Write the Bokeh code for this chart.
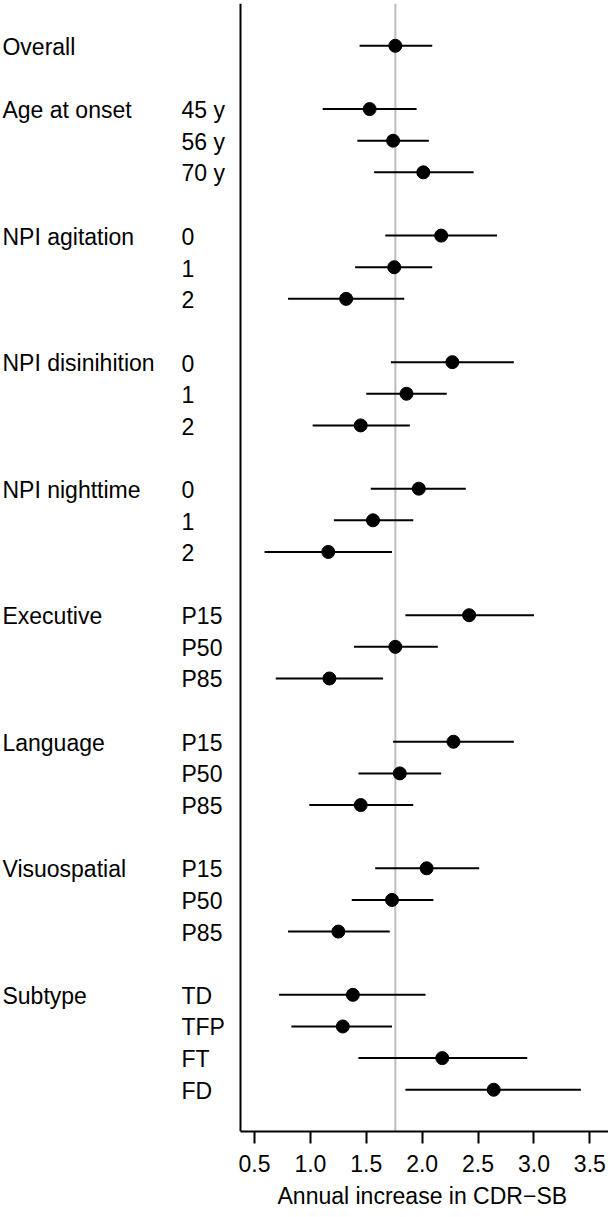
from bokeh.plotting import figure
from bokeh.models import (Range1d, Span, FixedTicker, ColumnDataSource,
                          NumeralTickFormatter, Title)
from bokeh.core.properties import value
from bokeh.embed import file_html
from bokeh.resources import INLINE

# ---------------- data ----------------
groups = ["Overall", "Age at onset", "NPI agitation", "NPI disinihition",
          "NPI nighttime", "Executive", "Language", "Visuospatial", "Subtype"]
sublabels = [
    [""],
    ["45 y", "56 y", "70 y"],
    ["0", "1", "2"],
    ["0", "1", "2"],
    ["0", "1", "2"],
    ["P15", "P50", "P85"],
    ["P15", "P50", "P85"],
    ["P15", "P50", "P85"],
    ["TD", "TFP", "FT", "FD"],
]
estimate = [1.76,
            1.53, 1.74, 2.01,
            2.17, 1.75, 1.32,
            2.27, 1.86, 1.45,
            1.97, 1.56, 1.16,
            2.42, 1.76, 1.17,
            2.28, 1.80, 1.45,
            2.04, 1.73, 1.25,
            1.38, 1.29, 2.18, 2.64]
lower = [1.44,
         1.11, 1.42, 1.57,
         1.67, 1.40, 0.80,
         1.72, 1.50, 1.02,
         1.54, 1.21, 0.59,
         1.85, 1.39, 0.69,
         1.74, 1.43, 0.99,
         1.58, 1.37, 0.80,
         0.72, 0.83, 1.43, 1.85]
upper = [2.09,
         1.95, 2.06, 2.46,
         2.67, 2.09, 1.84,
         2.82, 2.22, 1.89,
         2.39, 1.92, 1.73,
         3.00, 2.14, 1.65,
         2.82, 2.17, 1.92,
         2.51, 2.10, 1.71,
         2.03, 1.73, 2.94, 3.42]
reference = 1.76
xticks = [0.5, 1.0, 1.5, 2.0, 2.5, 3.0, 3.5]
xtitle = "Annual increase in CDR\u2212SB"

# ---------------- rows ----------------
rows, subs, grow, gname = [], [], [], []
r = 0
for g, sl in zip(groups, sublabels):
    grow.append(r)
    gname.append(g)
    for s in sl:
        rows.append(r)
        subs.append(s)
        r += 1
    r += 1  # blank row between groups
last_row = rows[-1]

# ---------------- layout ----------------
X_START, X_END = -1.7725, 3.667
AXIS_X = 0.3747
GROUP_X = -1.755
SUB_X = -0.153
FONT = value("Liberation Sans")
FS = "23px"

p = figure(width=608, height=1217, output_backend="svg", toolbar_location=None,
           x_range=Range1d(X_START, X_END),
           y_range=Range1d(last_row + 1.32, -1.337),
           min_border_left=0, min_border_right=0, min_border_top=3,
           min_border_bottom=86)
p.outline_line_color = None
p.grid.visible = False
p.yaxis.visible = False
p.background_fill_color = "white"
p.border_fill_color = "white"

ax = p.xaxis[0]
ax.ticker = FixedTicker(ticks=xticks)
ax.formatter = NumeralTickFormatter(format="0.0")
ax.bounds = (AXIS_X, X_END)
ax.axis_line_width = 2
ax.axis_line_color = "black"
ax.major_tick_line_width = 2
ax.major_tick_line_color = "black"
ax.major_tick_out = 12
ax.major_tick_in = 0
ax.minor_tick_line_color = None
ax.major_label_text_font = "Liberation Sans"
ax.major_label_text_font_size = FS
ax.major_label_text_color = "black"
ax.major_label_standoff = 11

p.add_layout(Title(text=xtitle, align="left", offset=277,
                   text_font="Liberation Sans", text_font_size=FS,
                   text_font_style="normal", text_color="black",
                   standoff=13), "below")

p.add_layout(Span(location=reference, dimension="height", line_color="#bebebe",
                  line_width=2, level="underlay"))
p.add_layout(Span(location=AXIS_X, dimension="height", line_color="black",
                  line_width=2))

src = ColumnDataSource(dict(y=rows, est=estimate, lo=lower, hi=upper, sub=subs,
                            subx=[SUB_X] * len(rows)))
p.segment(x0="lo", y0="y", x1="hi", y1="y", source=src, line_color="black",
          line_width=2)
p.scatter(x="est", y="y", source=src, size=13, fill_color="black",
          line_color="black")

p.text(x="subx", y="y", text="sub", source=src, text_font=FONT,
       text_font_size=FS, text_baseline="middle", text_align="left",
       text_color="black", y_offset=1)
gsrc = ColumnDataSource(dict(y=grow, name=gname, x=[GROUP_X] * len(grow)))
p.text(x="x", y="y", text="name", source=gsrc, text_font=FONT,
       text_font_size=FS, text_baseline="middle", text_align="left",
       text_color="black", y_offset=1)

open("out.html", "w").write(file_html(p, INLINE))
